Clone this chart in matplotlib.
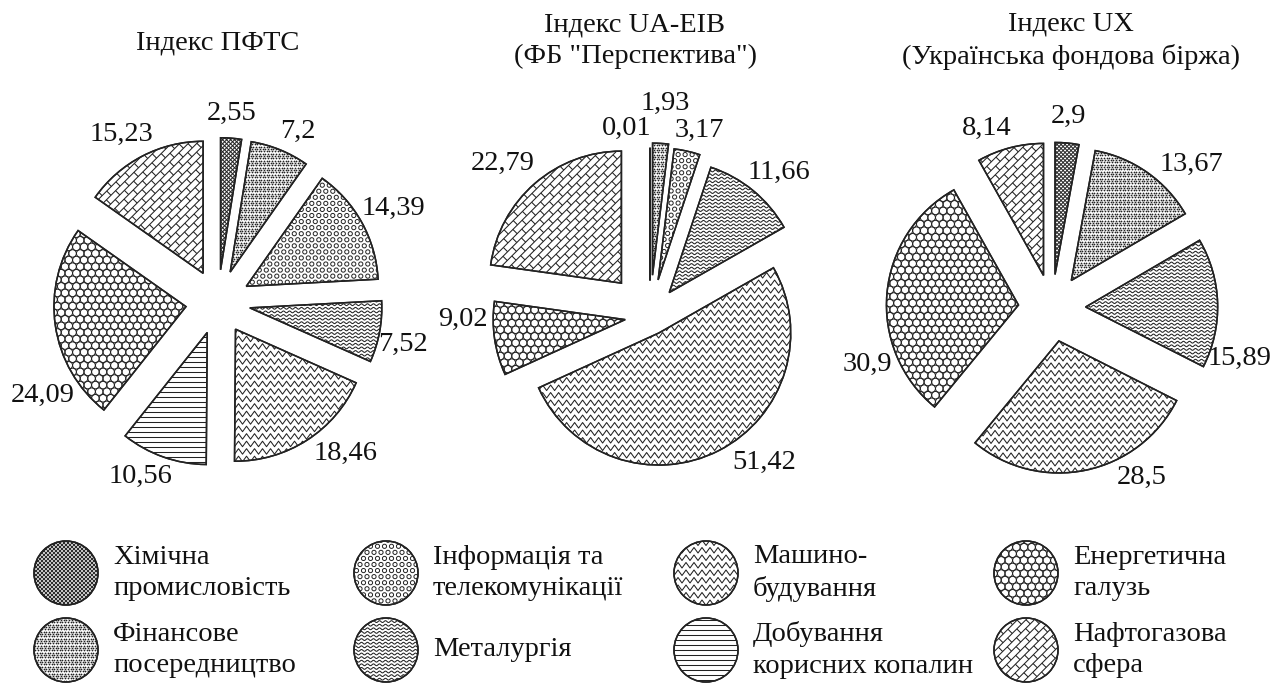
import numpy as np
import matplotlib
matplotlib.use('Agg')
import matplotlib.pyplot as plt
from matplotlib.patches import Circle, PathPatch
from matplotlib.collections import LineCollection

plt.rcParams['font.family'] = ['Liberation Serif', 'DejaVu Serif']

categories = ['Хімічна\nпромисловість', 'Фінансове\nпосередництво',
              'Інформація та\nтелекомунікації', 'Металургія',
              'Машино-\nбудування', 'Добування\nкорисних копалин',
              'Енергетична\nгалузь', 'Нафтогазова\nсфера']
patterns = ['cross', 'dots', 'rings', 'wave', 'zigzag', 'hlines', 'hex', 'brick']

titles = ['Індекс ПФТС', 'Індекс UA-EIB\n(ФБ "Перспектива")',
          'Індекс UX\n(Українська фондова біржа)']

# shares, %, same order as categories (0 = not in the index)
pfts = [2.55, 7.2, 14.39, 7.52, 18.46, 10.56, 24.09, 15.23]
ua_eib = [0.01, 1.93, 3.17, 11.66, 51.42, 0, 9.02, 22.79]
ux = [2.9, 13.67, 0, 15.89, 28.5, 0, 30.9, 8.14]

# layout (pixels, measured from the top-left corner)
W, H = 1287, 686
R = 132
INK = '#222222'
FS = 20.5
LSP = 1.35
centers = [(218, 302), (650, 316), (1052, 308)]
title_pos = [(218, 43), (635, 41), (1071, 41)]
explodes = [[0.245] * 8,
            [0.27, 0.31, 0.28, 0.23, 0.145, 0, 0.19, 0.33],
            [0.255] * 8]
# label placement: (angle clockwise from top, distance from pie centre)
label_pos = [
    [(4, 189), (25, 188), (62, 199), (103, 190), (140, 198), (204, 191), (242, 199), (330, 194)],
    [(353, 189), (4, 213), (15, 192), (42, 193), (142, 186), None, (269, 187), (316, 212)],
    [(5, 192), (44, 200), None, (105, 194), (152, 192), None, (253, 193), (340, 191)],
]


def add_pattern(ax, patch, kind):
    ext = patch.get_path().get_extents(patch.get_patch_transform())
    x0, y0, x1, y1 = ext.x0 - 8, ext.y0 - 8, ext.x1 + 8, ext.y1 + 8
    segs = []
    if kind == 'cross':
        h = y1 - y0
        for c in np.arange(x0 - h, x1, 4.0):
            segs.append([(c, y0), (c + h, y1)])
            segs.append([(c, y1), (c + h, y0)])
    elif kind == 'hlines':
        for y in np.arange(y0, y1, 5.0):
            segs.append([(x0, y), (x1, y)])
    elif kind == 'wave':
        xs = np.arange(x0, x1, 0.5)
        for y in np.arange(y0, y1, 3.6):
            segs.append(np.column_stack([xs, y + 0.9 * np.sin(2 * np.pi * xs / 6.0)]))
    elif kind == 'zigzag':
        xs = np.arange(x0, x1 + 4, 4.0)
        off = np.where(np.arange(len(xs)) % 2 == 0, 0.0, 5.5)
        for y in np.arange(y0, y1, 7.5):
            segs.append(np.column_stack([xs, y + off]))
    elif kind == 'brick':
        cx, cy = (x0 + x1) / 2, (y0 + y1) / 2
        rr = np.hypot(x1 - x0, y1 - y0) / 2
        w, L = 6.0, 13.0
        k = 0.5 ** 0.5

        def to_xy(u, v):
            return (cx + (u - v) * k, cy + (u + v) * k)
        for i, v in enumerate(np.arange(-rr, rr, w)):
            segs.append([to_xy(-rr, v), to_xy(rr, v)])
            for u in np.arange(-rr + (i % 2) * L / 2, rr, L):
                segs.append([to_xy(u, v), to_xy(u, v + w)])
    if segs:
        lc = LineCollection(segs, colors=INK, linewidths=0.75, zorder=2)
        ax.add_collection(lc)
        lc.set_clip_path(patch)
    if kind in ('dots', 'rings', 'hex'):
        sx, size, filled = {'dots': (2.7, 1.6, True),
                            'rings': (7.0, 9, False),
                            'hex': (7.6, 29, False)}[kind]
        pts = []
        for j, y in enumerate(np.arange(y0, y1, sx * 0.866)):
            for x in np.arange(x0 + (j % 2) * sx / 2, x1, sx):
                pts.append((x, y))
        pts = np.array(pts)
        if filled:
            sc = ax.scatter(pts[:, 0], pts[:, 1], s=size, c=INK, linewidths=0, zorder=2)
        else:
            sc = ax.scatter(pts[:, 0], pts[:, 1], s=size, facecolors='none',
                            edgecolors=INK, linewidths=0.7, zorder=2)
        sc.set_clip_path(patch)
    outline = patch.get_patch_transform().transform_path(patch.get_path())
    ax.add_patch(PathPatch(outline, fill=False, ec=INK, lw=1.1, zorder=3))


def fmt(v):
    return f'{v:g}'.replace('.', ',')


fig = plt.figure(figsize=(W / 100, H / 100), dpi=100)
ax = fig.add_axes([0, 0, 1, 1])

for n, values in enumerate([pfts, ua_eib, ux]):
    cx, cy = centers[n][0], H - centers[n][1]
    idx = [i for i, v in enumerate(values) if v > 0]
    wedges, _ = ax.pie([values[i] for i in idx], center=(cx, cy), radius=R,
                       startangle=90, counterclock=False,
                       explode=[explodes[n][i] * R for i in idx],
                       wedgeprops=dict(facecolor='white', edgecolor=INK, linewidth=1.1))
    for wdg, i in zip(wedges, idx):
        add_pattern(ax, wdg, patterns[i])
        a, d = label_pos[n][i]
        a = np.radians(a)
        ax.text(cx + d * np.sin(a), cy + d * np.cos(a), fmt(values[i]),
                ha='center', va='center', fontsize=FS, color='#111111')
    tx, ty = title_pos[n]
    ax.text(tx, H - ty, titles[n], ha='center', va='center', fontsize=FS,
            color='#111111', linespacing=LSP)

# legend, 4 columns x 2 rows
for i, cat in enumerate(categories):
    col, row = divmod(i, 2)
    lx = 66 + 320 * col
    ly = H - (573 if row == 0 else 650)
    c = Circle((lx, ly), 32, facecolor='white', edgecolor=INK, lw=1.1)
    ax.add_patch(c)
    add_pattern(ax, c, patterns[i])
    ax.text(lx + 47, ly, cat, ha='left', va='center', fontsize=FS,
            color='#111111', linespacing=LSP)

ax.set_xlim(0, W)
ax.set_ylim(0, H)
ax.set_aspect('equal')
ax.axis('off')
fig.savefig('out.png', dpi=100, facecolor='white')
